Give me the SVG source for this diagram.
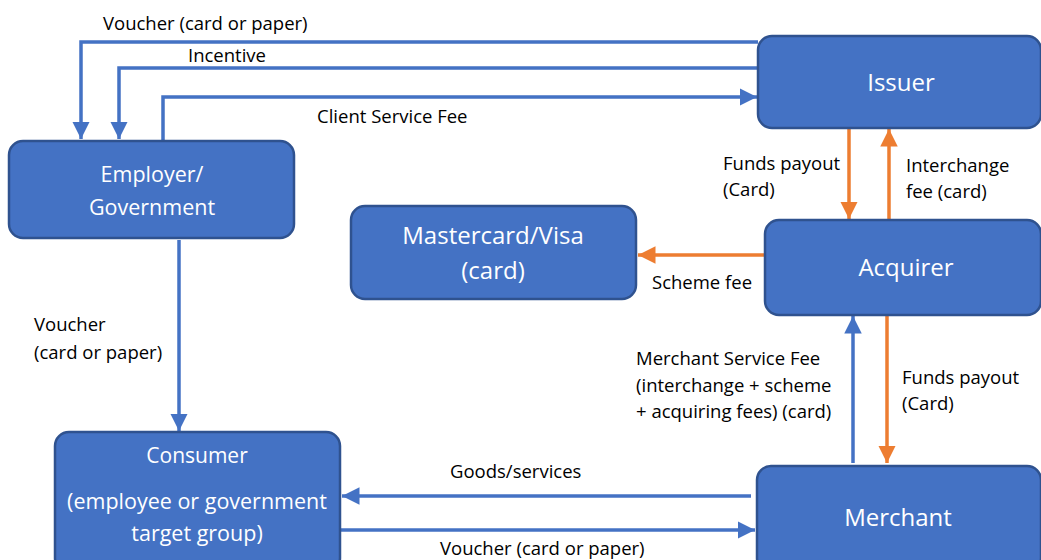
<svg xmlns="http://www.w3.org/2000/svg" width="1041" height="560" viewBox="0 0 1041 560">
<style>
.node{fill:#4472C4;stroke:#2F528F;stroke-width:2.5}
.nt{fill:#fff;font-family:"Open Sans","Liberation Sans",sans-serif;font-size:24px;text-anchor:middle}
.nt.s{font-size:21px}
.nt.m{font-size:21.5px}
.lb{fill:#000;font-family:"Open Sans","Liberation Sans",sans-serif;font-size:18.5px}
.b{stroke:#4472C4;stroke-width:3.5;fill:none}
.o{stroke:#ED7D31;stroke-width:3.5;fill:none}
</style>
<defs>
<marker id="ab" viewBox="0 0 10 10" refX="10" refY="5" markerWidth="5" markerHeight="5" orient="auto" markerUnits="strokeWidth"><path d="M0,0 L10,5 L0,10 z" fill="#4472C4"/></marker>
<marker id="ao" viewBox="0 0 10 10" refX="10" refY="5" markerWidth="5" markerHeight="5" orient="auto" markerUnits="strokeWidth"><path d="M0,0 L10,5 L0,10 z" fill="#ED7D31"/></marker>
</defs>
<rect width="1041" height="560" fill="#fff"/>
<g id="connectors">
<path class="b" d="M758,42 H81 V139" marker-end="url(#ab)"/>
<path class="b" d="M758,68 H119 V139" marker-end="url(#ab)"/>
<path class="b" d="M163,141 V97 H757" marker-end="url(#ab)"/>
<path class="o" d="M849,129 V219" marker-end="url(#ao)"/>
<path class="o" d="M889,219 V129" marker-end="url(#ao)"/>
<path class="o" d="M765,255 H638" marker-end="url(#ao)"/>
<path class="b" d="M179,240 V431" marker-end="url(#ab)"/>
<path class="b" d="M853,463 V316" marker-end="url(#ab)"/>
<path class="o" d="M887,316 V463" marker-end="url(#ao)"/>
<path class="b" d="M751,496 H342" marker-end="url(#ab)"/>
<path class="b" d="M340,530 H755" marker-end="url(#ab)"/>
</g>
<g id="issuer"><rect class="node" x="758" y="36" width="283" height="92" rx="14"/><text class="nt" x="901" y="91">Issuer</text></g>
<g id="employer"><rect class="node" x="9" y="141" width="285" height="97" rx="14"/><text class="nt m" x="152" y="182">Employer/</text><text class="nt m" x="152" y="215">Government</text></g>
<g id="mastercard"><rect class="node" x="351" y="206" width="285" height="93" rx="14"/><text class="nt" x="493" y="244">Mastercard/Visa</text><text class="nt" x="493" y="279">(card)</text></g>
<g id="acquirer"><rect class="node" x="765" y="220" width="276" height="95" rx="14"/><text class="nt" x="906" y="276">Acquirer</text></g>
<g id="consumer"><rect class="node" x="55" y="432" width="285" height="140" rx="14"/><text class="nt s" x="197" y="463">Consumer</text><text class="nt m" x="197" y="509">(employee or government</text><text class="nt m" x="197" y="541">target group)</text></g>
<g id="merchant"><rect class="node" x="757" y="466" width="284" height="106" rx="14"/><text class="nt" x="898" y="526">Merchant</text></g>
<g id="labels">
<text class="lb" x="103" y="30">Voucher (card or paper)</text>
<text class="lb" x="188" y="62">Incentive</text>
<text class="lb" x="317" y="123">Client Service Fee</text>
<text class="lb" x="723" y="170">Funds payout</text>
<text class="lb" x="723" y="196">(Card)</text>
<text class="lb" x="906" y="172">Interchange</text>
<text class="lb" x="906" y="198">fee (card)</text>
<text class="lb" x="652" y="289">Scheme fee</text>
<text class="lb" x="34" y="331">Voucher</text>
<text class="lb" x="34" y="359">(card or paper)</text>
<text class="lb" x="636" y="365">Merchant Service Fee</text>
<text class="lb" x="636" y="392">(interchange + scheme</text>
<text class="lb" x="636" y="418">+ acquiring fees) (card)</text>
<text class="lb" x="902" y="384">Funds payout</text>
<text class="lb" x="902" y="410">(Card)</text>
<text class="lb" x="450" y="478">Goods/services</text>
<text class="lb" x="440" y="555">Voucher (card or paper)</text>
</g>
</svg>
